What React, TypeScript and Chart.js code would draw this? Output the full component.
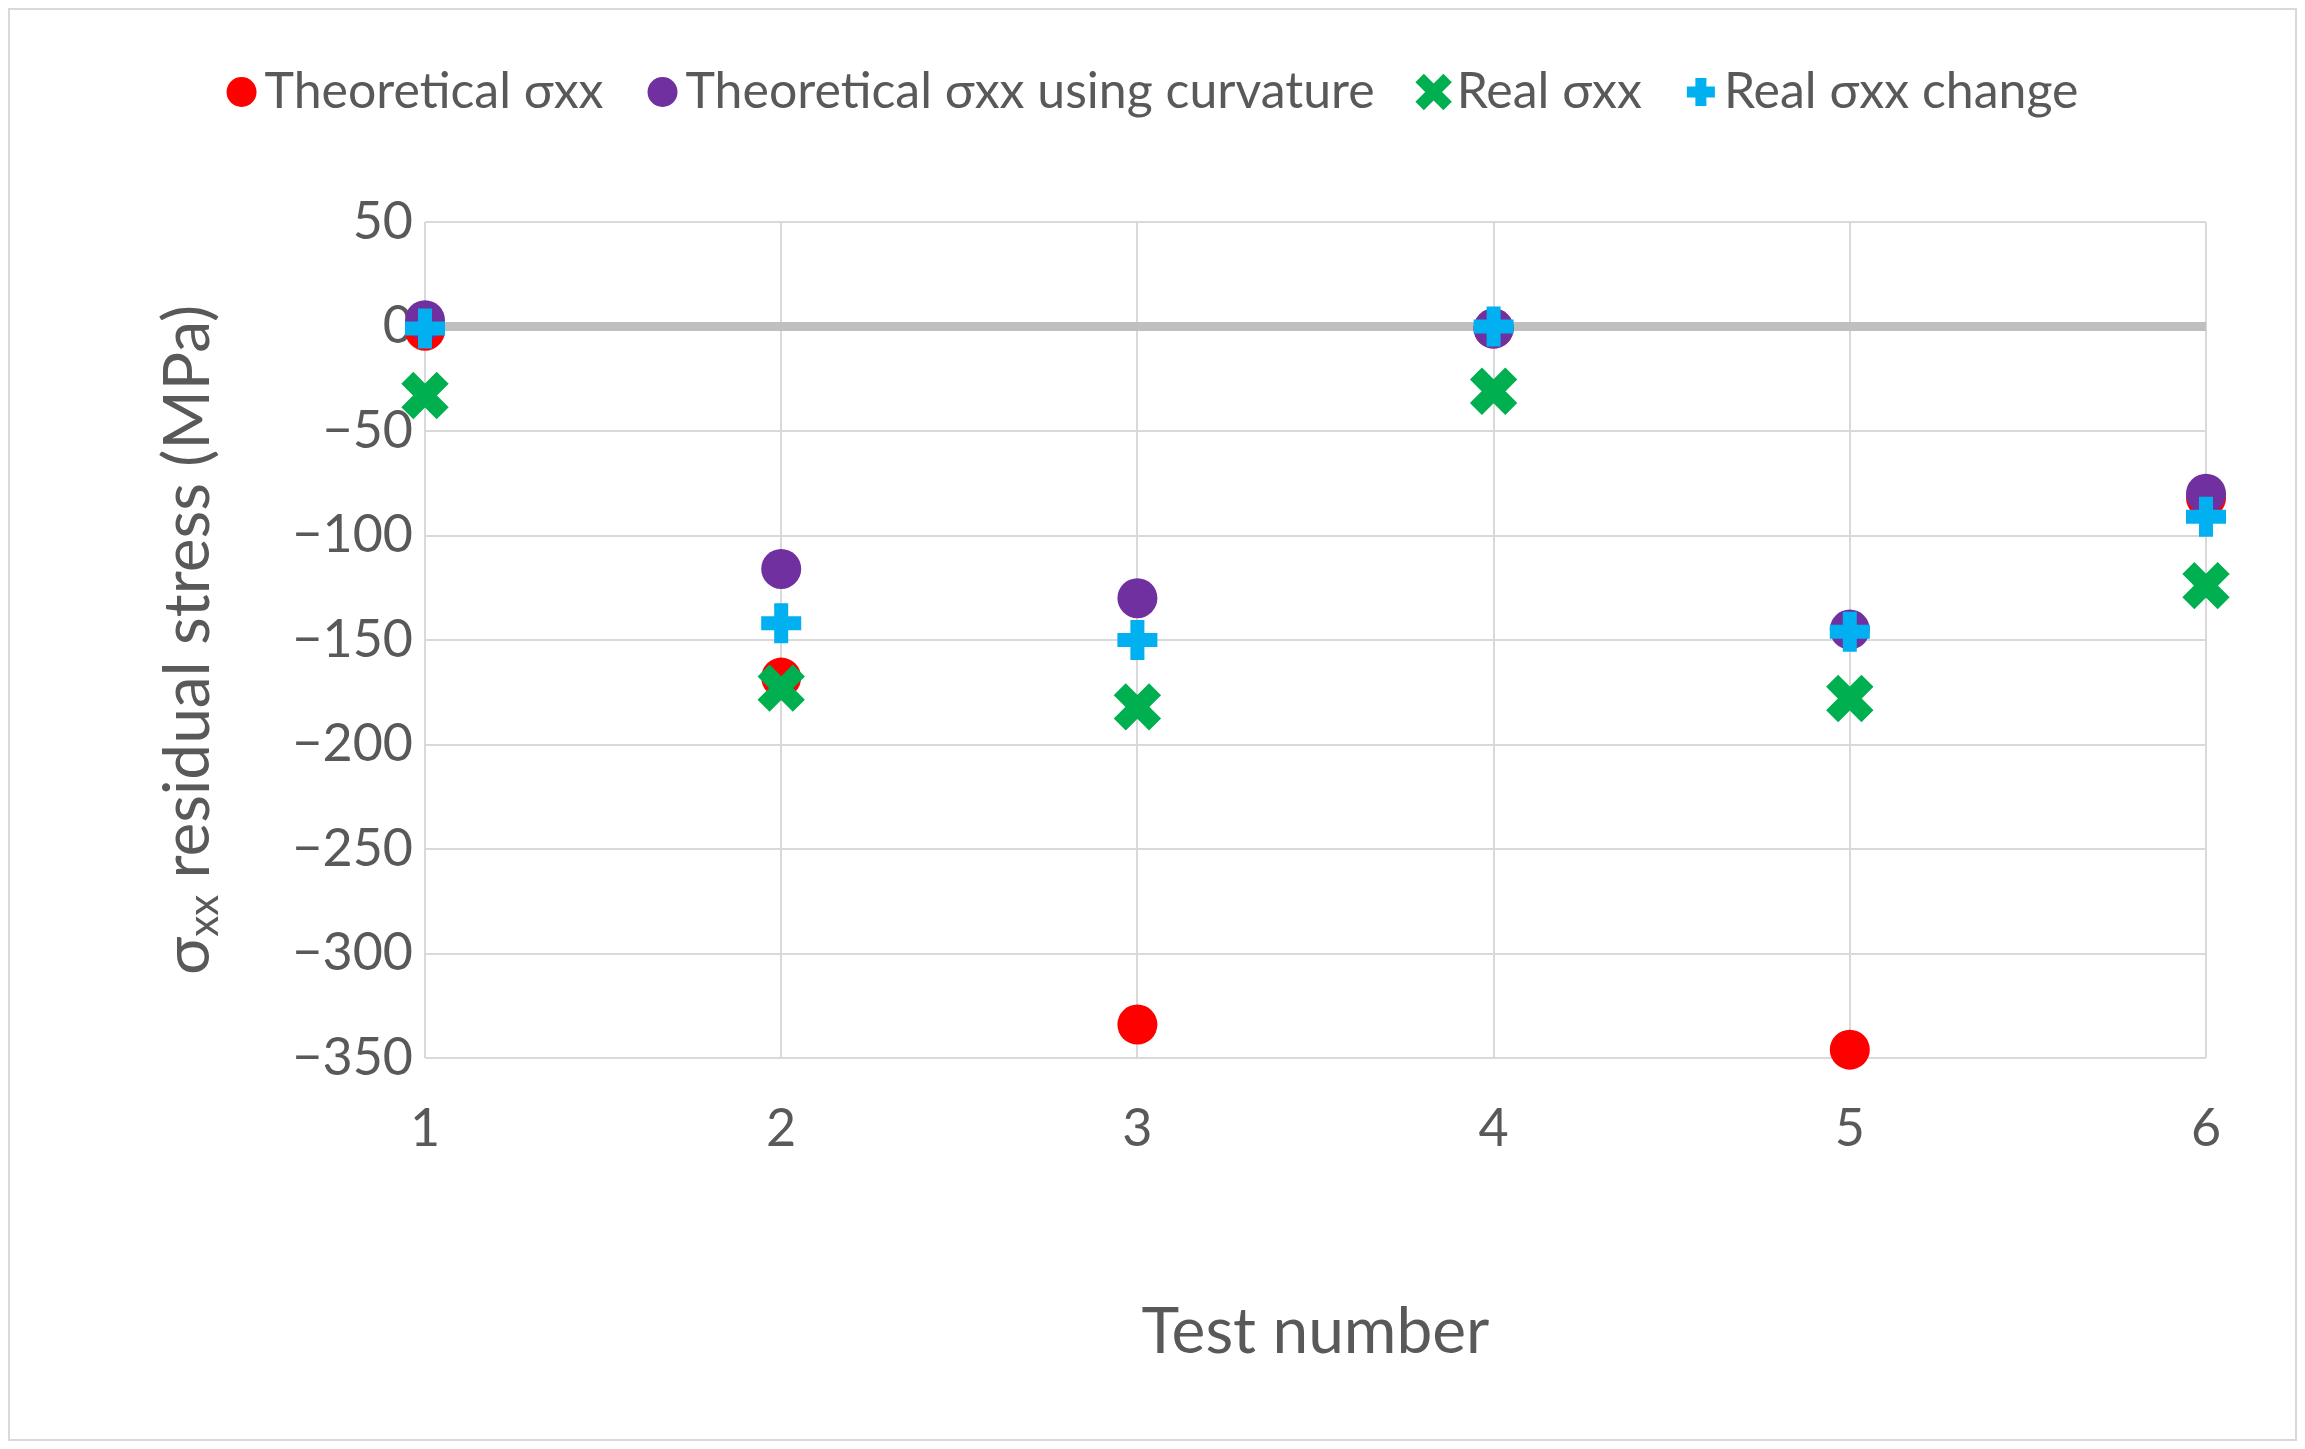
import React, { useEffect, useRef } from "react";
import { Chart, registerables } from "chart.js";
Chart.register(...registerables);

const testNumbers = [1, 2, 3, 4, 5, 6];
const theoretical = [-2, -168, -334, -1, -346, -82];
const theoreticalCurv = [3, -116, -130, -1, -145, -80];
const realSxx = [-33, -173, -182, -31, -178, -124];
const realChange = [-1, -142, -150, 0, -146, -91];
const legendLabels = ["Theoretical σxx", "Theoretical σxx using curvature", "Real σxx", "Real σxx change"];

const FONT = "Lato, 'Open Sans', sans-serif";
const TXT = "#595959";

const pts = (v: number[]) => testNumbers.map((x, i) => ({ x, y: v[i] }));

const extras = {
  id: "extras",
  afterDraw(chart: any) {
    const ctx = chart.ctx;
    ctx.save();
    ctx.font = `50px ${FONT}`;
    ctx.textBaseline = "middle";
    const y = 84;
    const items = [
      { c: "#ff0000", s: "circle" },
      { c: "#7030a0", s: "circle" },
      { c: "#00b050", s: "x" },
      { c: "#00b0f0", s: "plus" },
    ];
    const gap = 44, mk = 38;
    let total = 0;
    legendLabels.forEach((l) => (total += mk + ctx.measureText(l).width));
    total += gap * 3;
    let x = (chart.width - total) / 2;
    items.forEach((it, i) => {
      const cx = x + 15;
      ctx.fillStyle = it.c;
      ctx.strokeStyle = it.c;
      if (it.s === "circle") {
        ctx.beginPath(); ctx.arc(cx, y, 15, 0, Math.PI * 2); ctx.fill();
      } else if (it.s === "x") {
        ctx.lineWidth = 12; ctx.beginPath();
        ctx.moveTo(cx - 14, y - 14); ctx.lineTo(cx + 14, y + 14);
        ctx.moveTo(cx + 14, y - 14); ctx.lineTo(cx - 14, y + 14); ctx.stroke();
      } else {
        ctx.lineWidth = 11; ctx.beginPath();
        ctx.moveTo(cx - 14, y); ctx.lineTo(cx + 14, y);
        ctx.moveTo(cx, y - 14); ctx.lineTo(cx, y + 14); ctx.stroke();
      }
      ctx.fillStyle = TXT;
      ctx.textAlign = "left";
      ctx.fillText(legendLabels[i], x + mk, y);
      x += mk + ctx.measureText(legendLabels[i]).width + gap;
    });
    const a = chart.chartArea;
    ctx.font = `64px ${FONT}`;
    ctx.textAlign = "center";
    ctx.fillText("Test number", (a.left + a.right) / 2, 1324);
    ctx.translate(180, (a.top + a.bottom) / 2);
    ctx.rotate(-Math.PI / 2);
    const t1 = "σ", t2 = "xx", t3 = " residual stress (MPa)";
    ctx.font = `64px ${FONT}`;
    const w1 = ctx.measureText(t1).width, w3 = ctx.measureText(t3).width;
    ctx.font = `42px ${FONT}`;
    const w2 = ctx.measureText(t2).width;
    let sx = -(w1 + w2 + w3) / 2;
    ctx.textAlign = "left";
    ctx.font = `64px ${FONT}`;
    ctx.fillText(t1, sx, 0); sx += w1;
    ctx.font = `42px ${FONT}`;
    ctx.fillText(t2, sx, 16); sx += w2;
    ctx.font = `64px ${FONT}`;
    ctx.fillText(t3, sx, 0);
    ctx.restore();
  },
};

export default function App() {
  const ref = useRef<HTMLCanvasElement>(null);
  useEffect(() => {
    const ds = (label: string, data: number[], color: string, style: any, r: number, bw: number) => ({
      label, data: pts(data), pointStyle: style, pointRadius: r, pointHoverRadius: r,
      backgroundColor: color, borderColor: color, pointBorderWidth: bw, showLine: false, clip: false as any,
    });
    const chart = new Chart(ref.current!, {
      type: "scatter",
      data: {
        datasets: [
          ds("Real σxx change", realChange, "#00b0f0", "cross", 20, 14),
          ds("Real σxx", realSxx, "#00b050", "crossRot", 25, 17),
          ds("Theoretical σxx using curvature", theoreticalCurv, "#7030a0", "circle", 20, 0),
          ds("Theoretical σxx", theoretical, "#ff0000", "circle", 20, 0),
        ],
      },
      options: {
        animation: false,
        responsive: false,
        layout: { padding: { top: 214, right: 91, left: 0, bottom: 0 } },
        plugins: { legend: { display: false }, tooltip: { enabled: false } },
        scales: {
          x: {
            type: "linear", min: 1, max: 6,
            afterFit: (s: any) => { s.height = 383; },
            grid: { color: "#d9d9d9", lineWidth: 2, drawTicks: false },
            border: { display: false },
            ticks: { stepSize: 1, color: TXT, font: { size: 52, family: FONT }, padding: 40 },
          },
          y: {
            min: -350, max: 50,
            afterFit: (s: any) => { s.width = 417; },
            grid: {
              color: (c: any) => (c.tick && c.tick.value === 0 ? "#bfbfbf" : "#d9d9d9"),
              lineWidth: (c: any) => (c.tick && c.tick.value === 0 ? 9 : 2),
              drawTicks: false,
            },
            border: { display: false },
            ticks: {
              stepSize: 50, color: TXT, font: { size: 52, family: FONT }, padding: 12,
              callback: (v: any) => (v < 0 ? "−" + Math.abs(v) : String(v)),
            },
          },
        },
      },
      plugins: [extras],
    });
    return () => chart.destroy();
  }, []);
  return (
    <div style={{ width: 2289, height: 1433, position: "relative" }}>
      <canvas ref={ref} width={2289} height={1433} style={{ display: "block" }} />
      <div style={{ position: "absolute", left: 0, top: 0, width: 2285, height: 1429, border: "2px solid #d9d9d9", pointerEvents: "none" }} />
    </div>
  );
}
